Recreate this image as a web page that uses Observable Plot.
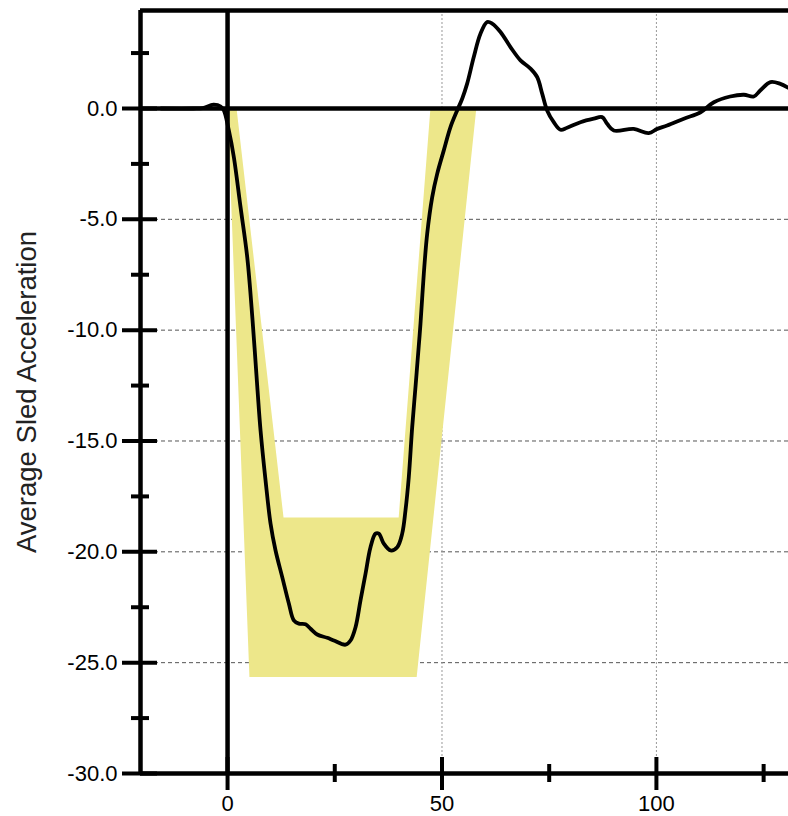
<!DOCTYPE html>
<html>
<head>
<meta charset="utf-8">
<script src="https://cdn.jsdelivr.net/npm/d3@7"></script>
<script src="https://cdn.jsdelivr.net/npm/@observablehq/plot@0.6"></script>
<style>
  html, body { margin: 0; padding: 0; background: #fff; }
  #chart { width: 788px; height: 816px; }
</style>
</head>
<body>
<div id="chart"></div>
<script>
// ---- data ----
const xDomain = [-20.3, 130.8];
const yDomain = [-30, 4.42];
const xMajor = [0, 50, 100];
const xMinor = [25, 75, 125];
const yMajor = [0, -5, -10, -15, -20, -25, -30];
const yMinor = [2.5, -2.5, -7.5, -12.5, -17.5, -22.5, -27.5];
const yGridValues = [-5, -10, -15, -20, -25];
const xGridValues = [50, 100];
const yTitle = "Average Sled Acceleration";

// corridor (U-shaped band)
const corridorX = [0, 5.1, 44.1, 58.0, 47.3, 39.9, 13.05, 2.1, 0];
const corridorY = [0, -25.65, -25.65, 0, 0, -18.45, -18.45, 0, 0];

// measured average sled acceleration
const timeMs = [-15.5, -8, -5.8, -3.3, -1.6, -0.86, 0.3, 1.47, 3.03, 4.59, 5.83, 6.99, 7.69, 8.86, 10.02, 11.19,
  12.75, 14.29, 15.45, 16.62, 18.18, 19.35, 20.91, 23.24, 24.78, 27.5, 28.67, 29.84, 31.0, 32.17,
  33.33, 34.5, 35.27, 36.43, 38.0, 39.56, 40.72, 41.49, 42.26, 43.05, 43.82, 44.59, 44.99, 45.76,
  46.55, 47.72, 48.88, 50.42, 51.98, 53.54, 54.71, 55.87, 57.41, 58.97, 60.54, 61.7, 63.64, 65.97,
  68.3, 70.63, 72.19, 73.36, 74.52, 76.06, 77.62, 79.18, 82.28, 85.38, 87.34, 88.51, 90.05, 94.71,
  98.2, 100.2, 102.5, 106.4, 110.3, 113.4, 117.2, 120.4, 122.7, 124.2, 126.6, 128.9, 130.8];
const accel = [0, 0, 0.02, 0.17, 0.09, -0.09, -0.99, -2.2, -4.45, -6.71, -9.56, -12.72, -14.52, -16.78, -18.72, -19.94,
  -21.14, -22.33, -23.09, -23.24, -23.27, -23.47, -23.73, -23.88, -24.0, -24.19, -24.0, -23.4, -22.19, -20.99,
  -19.79, -19.18, -19.18, -19.63, -19.94, -19.79, -19.18, -18.13, -16.63, -14.38, -12.57, -10.7, -9.71, -7.46,
  -5.65, -4.0, -2.95, -1.89, -0.84, -0.09, 0.44, 1.12, 2.32, 3.37, 3.9, 3.83, 3.45, 2.77,
  2.17, 1.8, 1.42, 0.67, -0.09, -0.62, -0.96, -0.87, -0.62, -0.46, -0.39, -0.69, -0.99, -0.92,
  -1.11, -0.92, -0.77, -0.46, -0.17, 0.28, 0.54, 0.62, 0.54, 0.81, 1.19, 1.11, 0.93];

const corridor = corridorX.map((x, i) => ({x, y: corridorY[i]}));
const series = timeMs.map((t, i) => ({t, a: accel[i]}));

const chart = Plot.plot({
  width: 788,
  height: 816,
  marginLeft: 140,
  marginRight: 0,
  marginTop: 10,
  marginBottom: 43,
  style: {fontFamily: "'Liberation Sans', Arial, sans-serif", color: "#000", background: "#fff", overflow: "visible"},
  x: {domain: xDomain},
  y: {domain: yDomain},
  marks: [
    Plot.gridY({ticks: yGridValues, stroke: "#555", strokeOpacity: 1, strokeWidth: 1, strokeDasharray: "4,3"}),
    Plot.gridX({ticks: xGridValues, stroke: "#999", strokeOpacity: 1, strokeWidth: 1, strokeDasharray: "2,2"}),
    Plot.line(corridor, {x: "x", y: "y", fill: "#ede78a", stroke: "none", curve: "linear"}),
    Plot.ruleY([0], {stroke: "#000", strokeWidth: 4.5}),
    Plot.ruleX([0], {stroke: "#000", strokeWidth: 4.5}),
    Plot.ruleY([yDomain[1]], {stroke: "#000", strokeWidth: 4.5}),
    Plot.ruleY([yDomain[0]], {stroke: "#000", strokeWidth: 4.5}),
    Plot.ruleX([xDomain[0]], {stroke: "#000", strokeWidth: 4.5}),
    Plot.line(series, {x: "t", y: "a", stroke: "#000", strokeWidth: 3.8, curve: "catmull-rom"}),
    // y ticks (crossing the axis)
    Plot.axisY({ticks: yMajor, tickSize: 35, dx: 17, fill: "none", strokeWidth: 4, label: null}),
    Plot.axisY({ticks: yMinor, tickSize: 18, dx: 9, fill: "none", strokeWidth: 4, label: null}),
    Plot.axisY({ticks: yMajor, tickSize: 0, tickPadding: 23, tickFormat: d => d.toFixed(1), fontSize: 22, label: null}),
    // x ticks (crossing the axis)
    Plot.axisX({ticks: xMajor, tickSize: 33, dy: -16, fill: "none", strokeWidth: 4, label: null}),
    Plot.axisX({ticks: xMinor, tickSize: 18, dy: -9, fill: "none", strokeWidth: 4, label: null}),
    Plot.axisX({ticks: xMajor, tickSize: 0, tickPadding: 22, tickFormat: d => String(d), fontSize: 22, label: null}),
    Plot.text([yTitle], {text: d => d, frameAnchor: "left", textAnchor: "middle", rotate: -90, dx: -113, fontSize: 27.5, fill: "#222"})
  ]
});
document.getElementById("chart").appendChild(chart);
</script>
</body>
</html>
